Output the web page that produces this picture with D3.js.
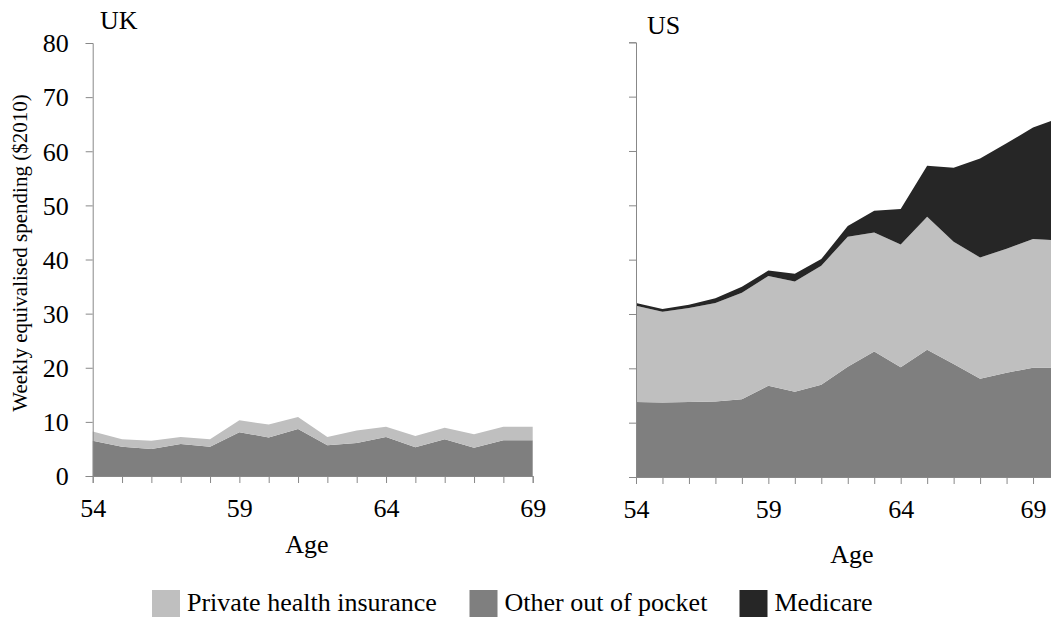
<!DOCTYPE html>
<html><head><meta charset="utf-8">
<script src="https://cdn.jsdelivr.net/npm/d3@7"></script>
<style>
body{margin:0;background:#fff}
svg{display:block}
</style>
</head><body>
<svg id="chart" width="1051" height="622"></svg>
<script>
// ---- data ----
const ukAges = [54,55,56,57,58,59,60,61,62,63,64,65,66,67,68,69];
const ukOther   = [6.5,5.4,5.0,5.9,5.4,8.1,7.1,8.7,5.7,6.1,7.2,5.3,6.8,5.2,6.6,6.6];
const ukPrivate = [1.7,1.4,1.5,1.3,1.4,2.2,2.4,2.2,1.5,2.3,1.9,2.1,2.1,2.5,2.5,2.5];

const usAges = [54,55,56,57,58,59,60,61,62,63,64,65,66,67,68,69,70];
const usOther    = [13.8,13.7,13.8,13.9,14.3,16.8,15.7,17.0,20.3,23.1,20.2,23.4,20.8,18.1,19.2,20.1,20.1];
const usPrivate  = [17.7,16.7,17.3,18.1,19.6,20.2,20.3,21.9,23.9,21.9,22.6,24.5,22.5,22.3,22.8,23.7,23.4];
const usMedicare = [0.5,0.5,0.6,0.9,1.1,1.0,1.4,1.2,2.0,4.0,6.5,9.4,13.6,18.2,19.4,20.5,22.6];

const yTicks = [0,10,20,30,40,50,60,70,80];
const xTickLabels = [54,59,64,69];
const seriesNames = ["Private health insurance","Other out of pocket","Medicare"];
const seriesKeys  = ["private","other","medicare"];
const colors = {private:"#bfbfbf", other:"#7f7f7f", medicare:"#262626"};

const FONT = "'Liberation Serif'";
const svg = d3.select("#chart");
const axisColor = "#888";

function styleText(sel, size){
  sel.style("font-family",FONT).style("font-size",size+"px").attr("fill","#000");
  return sel;
}

function panel(opts){
  const {ages, rows, keys, xDomain, xRange, yRange, title, titlePos, showYLabels, ageLabelY} = opts;
  const x = d3.scaleLinear().domain(xDomain).range(xRange);
  const y = d3.scaleLinear().domain([0,80]).range(yRange);
  const stack = d3.stack().keys(keys)(rows);
  const area = d3.area().x(d=>x(d.data.age)).y0(d=>y(d[0])).y1(d=>y(d[1]));
  const g = svg.append("g");
  g.selectAll("path.area").data(stack).join("path")
    .attr("class","area")
    .attr("d",area)
    .attr("fill",d=>colors[d.key]);

  // y axis
  const ya = g.append("g").attr("transform",`translate(${xRange[0]},0)`)
    .call(d3.axisLeft(y).tickValues(yTicks).tickSize(7).tickFormat(showYLabels? d3.format("d") : ""));
  ya.select(".domain").attr("stroke",axisColor);
  ya.selectAll(".tick line").attr("stroke",axisColor);
  styleText(ya.selectAll(".tick text"),26).attr("x",-24).attr("dy","0.34em");

  // x axis
  const xa = g.append("g").attr("transform",`translate(0,${yRange[0]})`)
    .call(d3.axisBottom(x).tickValues(ages).tickSize(7)
      .tickFormat(d=> xTickLabels.includes(d) ? d : ""));
  xa.select(".domain").attr("stroke",axisColor);
  xa.selectAll(".tick line").attr("stroke",axisColor);
  styleText(xa.selectAll(".tick text"),26).attr("y",23);

  styleText(g.append("text").attr("x",titlePos[0]).attr("y",titlePos[1]).text(title),26);
  styleText(g.append("text").attr("x",opts.ageX).attr("y",ageLabelY).attr("text-anchor","middle").text("Age"),26);
}

const ukRows = ukAges.map((a,i)=>({age:a, other:ukOther[i], private:ukPrivate[i]}));
panel({ages:ukAges, rows:ukRows, keys:["other","private"], xDomain:[54,69], xRange:[92.7,532.7],
  yRange:[476,43], title:"UK", titlePos:[100,29], showYLabels:true, ageX:307, ageLabelY:553});

const usRows = usAges.map((a,i)=>({age:a, other:usOther[i], private:usPrivate[i], medicare:usMedicare[i]}));
panel({ages:usAges, rows:usRows, keys:["other","private","medicare"], xDomain:[54,70], xRange:[636,1059.5],
  yRange:[477,42.3], title:"US", titlePos:[647,34], showYLabels:false, ageX:852, ageLabelY:563});

// y axis title
styleText(svg.append("text").attr("transform","translate(27,253) rotate(-90)")
  .attr("text-anchor","middle").text("Weekly equivalised spending ($2010)"),21);

// legend
const legendX = [152,469.5,739.5];
const lg = svg.append("g");
seriesKeys.forEach((k,i)=>{
  lg.append("rect").attr("x",legendX[i]).attr("y",590).attr("width",28).attr("height",27).attr("fill",colors[k]);
  styleText(lg.append("text").attr("x",legendX[i]+35).attr("y",611).text(seriesNames[i]),26);
});
</script>
</body></html>
